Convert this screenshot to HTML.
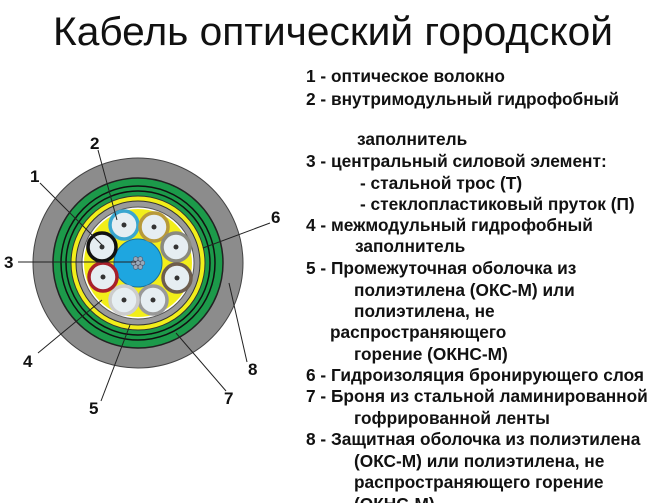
<!DOCTYPE html>
<html><head><meta charset="utf-8"><style>
html,body{margin:0;padding:0;background:#fff;width:671px;height:503px;overflow:hidden}
svg{display:block}
.t{font-family:"Liberation Sans","DejaVu Sans",sans-serif;font-weight:bold;font-size:17.3px;fill:#111}
.n{font-family:"Liberation Sans",sans-serif;font-weight:bold;font-size:17px;fill:#111}
</style></head><body>
<svg width="671" height="503" viewBox="0 0 671 503" xmlns="http://www.w3.org/2000/svg">
<text x="53" y="45" textLength="560" lengthAdjust="spacingAndGlyphs" style="font-family:'Liberation Sans',sans-serif;font-size:40px;fill:#111">Кабель оптический городской</text>
<g transform="translate(138,263)">
<circle r="105" fill="#8c8c8c" stroke="#444" stroke-width="1"/>
<circle r="85" fill="#1c9a4a" stroke="#222" stroke-width="1.5"/>
<circle r="77" fill="none" stroke="#111" stroke-width="1.5"/>
<circle r="72" fill="#1c9a4a" stroke="#111" stroke-width="1.5"/>
<circle r="67" fill="#f2ee1a" stroke="#333" stroke-width="1"/>
<circle r="62" fill="#9a9a9a" stroke="#333" stroke-width="1"/>
<circle r="56" fill="#fff" stroke="#555" stroke-width="1"/>
<circle r="54" fill="#f2ee1a"/>
<circle r="24" fill="#1ea6e0" stroke="#1a6e99" stroke-width="1"/>
<g fill="#9ab" stroke="#556" stroke-width="0.6">
<circle r="2.3"/><circle cx="4.5" r="2.3"/><circle cx="-4.5" r="2.3"/><circle cx="2.3" cy="4" r="2.3"/><circle cx="-2.3" cy="4" r="2.3"/><circle cx="2.3" cy="-4" r="2.3"/><circle cx="-2.3" cy="-4" r="2.3"/>
</g>
</g>
<g stroke-width="3.5">
<circle cx="124" cy="225" r="14" fill="#e6eef2" stroke="#3aa6cf"/>
<circle cx="154" cy="227" r="14" fill="#e6eef2" stroke="#b89a3a"/>
<circle cx="176" cy="247" r="14" fill="#e6eef2" stroke="#8a8a80"/>
<circle cx="177" cy="278" r="14" fill="#e6eef2" stroke="#6e5e4e"/>
<circle cx="153" cy="300" r="14" fill="#e6eef2" stroke="#999"/>
<circle cx="124" cy="300" r="14" fill="#e6eef2" stroke="#ccc"/>
<circle cx="103" cy="277" r="14" fill="#e6eef2" stroke="#a8202a"/>
<circle cx="102" cy="247" r="14" fill="#e6eef2" stroke="#111"/>
</g>
<g fill="#333">
<circle cx="124" cy="225" r="2.5"/><circle cx="154" cy="227" r="2.5"/><circle cx="176" cy="247" r="2.5"/><circle cx="177" cy="278" r="2.5"/><circle cx="153" cy="300" r="2.5"/><circle cx="124" cy="300" r="2.5"/><circle cx="103" cy="277" r="2.5"/><circle cx="102" cy="247" r="2.5"/>
</g>
<g stroke="#222" stroke-width="1">
<line x1="40" y1="183" x2="102" y2="245"/>
<line x1="98" y1="150" x2="117" y2="220"/>
<line x1="18" y1="262" x2="136" y2="262"/>
<line x1="38" y1="353" x2="102" y2="300"/>
<line x1="101" y1="401" x2="130" y2="325"/>
<line x1="270" y1="223" x2="203" y2="248"/>
<line x1="226" y1="391" x2="176" y2="333"/>
<line x1="247" y1="362" x2="229" y2="283"/>
</g>
<text class="n" x="30" y="182">1</text>
<text class="n" x="90" y="149">2</text>
<text class="n" x="4" y="268">3</text>
<text class="n" x="23" y="367">4</text>
<text class="n" x="89" y="414">5</text>
<text class="n" x="271" y="223">6</text>
<text class="n" x="224" y="404">7</text>
<text class="n" x="248" y="375">8</text>
<g class="t">
<text x="306" y="82">1 - оптическое волокно</text>
<text x="306" y="105">2 - внутримодульный гидрофобный</text>
<text x="357" y="145">заполнитель</text>
<text x="306" y="167">3 - центральный силовой элемент:</text>
<text x="360" y="189">- стальной трос (Т)</text>
<text x="360" y="210">- стеклопластиковый пруток (П)</text>
<text x="306" y="231">4 - межмодульный гидрофобный</text>
<text x="355" y="252">заполнитель</text>
<text x="306" y="274">5 - Промежуточная оболочка из</text>
<text x="354" y="296">полиэтилена (ОКС-М) или</text>
<text x="354" y="317">полиэтилена, не</text>
<text x="330" y="338">распространяющего</text>
<text x="354" y="360">горение (ОКНС-М)</text>
<text x="306" y="381">6 - Гидроизоляция бронирующего слоя</text>
<text x="306" y="402">7 - Броня из стальной ламинированной</text>
<text x="354" y="424">гофрированной ленты</text>
<text x="306" y="445">8 - Защитная оболочка из полиэтилена</text>
<text x="354" y="467">(ОКС-М) или полиэтилена, не</text>
<text x="354" y="488">распространяющего горение</text>
<text x="354" y="510">(ОКНС-М)</text>
</g>
</svg>
</body></html>
